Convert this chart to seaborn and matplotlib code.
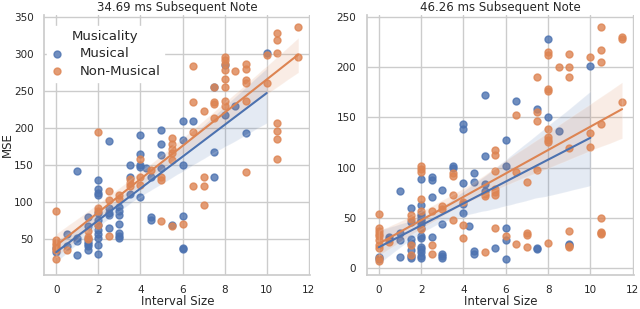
import numpy as np
import pandas as pd
import seaborn as sns
import matplotlib.pyplot as plt

# -------------------------------------------------
# Data (interval size -> MSE)
# -------------------------------------------------
titles = ["34.69 ms Subsequent Note", "46.26 ms Subsequent Note"]
groups = ["Musical", "Non-Musical"]

# left panel, musical
left_mus_x = [0, 0, 0.5, 0.5, 1, 1, 1, 1,
              1.5, 1.5, 1.5, 1.5, 1.5, 1.5, 1.5,
              2, 2, 2, 2, 2, 2, 2, 2, 2, 2, 2, 2,
              2.5, 2.5, 2.5, 2.5, 2.5,
              3, 3, 3, 3, 3, 3, 3,
              3.5, 3.5, 3.5,
              4, 4, 4, 4, 4, 4.25,
              4.5, 4.5, 4.5,
              5, 5, 5, 5, 5.5,
              6, 6, 6, 6, 6, 6, 6.5,
              7.5, 7.5, 7.5, 8, 8, 8.5, 9, 10]
left_mus_y = [32, 38, 57, 40, 142, 51, 47, 28,
              79, 67, 50, 46, 43, 40, 35,
              129, 117, 112, 109, 85, 76, 69, 62, 56, 51, 41, 29,
              182, 91, 85, 82, 64,
              93, 88, 82, 70, 58, 54, 51,
              150, 134, 111,
              190, 165, 150, 147, 107, 146,
              134, 80, 76,
              197, 178, 163, 146, 69,
              210, 183, 150, 81, 37, 36, 210,
              256, 168, 134, 285, 217, 230, 193, 301]

# left panel, non-musical
left_non_x = [0, 0, 0, 0, 0, 0, 0, 0.5,
              1.5, 1.5, 1.5,
              2, 2, 2, 2,
              2.5, 2.5, 2.5, 3, 3,
              3.5, 3.5, 3.5, 4, 4, 4, 4.5,
              5, 5, 5,
              5.5, 5.5, 5.5, 5.5, 5.5, 5.5, 6,
              6.5, 6.5, 6.5, 6.5,
              7, 7, 7, 7,
              7.5, 7.5, 7.5, 7.5,
              8, 8, 8, 8, 8, 8, 8, 8, 8.5,
              9, 9, 9, 9, 9, 9,
              10, 10,
              10.5, 10.5, 10.5, 10.5, 10.5, 10.5, 10.5,
              11.5, 11.5]
left_non_y = [87, 48, 44, 41, 38, 35, 23, 35,
              61, 53, 50,
              195, 91, 88, 69,
              114, 103, 54, 109, 104,
              131, 125, 121, 158, 134, 123, 143,
              134, 129, 74,
              187, 178, 172, 166, 157, 67, 70,
              284, 235, 194, 122,
              223, 134, 122, 96,
              256, 235, 232, 213,
              296, 292, 286, 279, 266, 256, 236, 229, 277,
              286, 280, 265, 261, 236, 141,
              298, 261,
              328, 319, 301, 207, 196, 185, 158,
              337, 296]

# right panel, musical (some points sit on top of each other)
right_mus_x = [0, 0, 0.5, 0.5, 1, 1, 1, 1,
               1.5, 1.5, 1.5, 1.5, 1.5, 1.5, 1.5,
               2, 2, 2, 2, 2, 2, 2, 2, 2, 2, 2, 2, 2, 2, 2,
               2.5, 2.5, 2.5, 2.5,
               3, 3, 3, 3, 3,
               3.5, 3.5,
               4, 4, 4, 4, 4, 4.25,
               4.5, 4.5, 4.5, 4.5,
               5, 5, 5, 5, 5.5,
               6, 6, 6, 6, 6, 6.5,
               7.5, 7.5, 7.5, 8, 8, 8.5, 9, 9, 10]
right_mus_y = [11, 9, 31, 29, 77, 35, 28, 11,
               60, 46, 29, 25, 18, 12.5, 10,
               89, 63, 54.5, 52, 49.5, 47, 44, 40, 32, 30, 21.5, 19, 16, 12, 10,
               91, 88, 71, 31,
               78, 44, 14, 12, 10,
               102, 100,
               144, 139, 85, 64, 55, 42,
               95, 86, 17, 14,
               172, 112, 84, 77, 20,
               128, 102, 40, 28, 9, 166,
               158, 20, 19, 228, 150, 137, 24, 23, 201]

# right panel, non-musical
right_non_x = [0, 0, 0, 0, 0, 0, 0, 0, 0, 0, 0.5,
               1.5, 1.5, 1.5, 1.5,
               2, 2, 2, 2, 2, 2,
               2.5, 2.5, 2.5, 3, 3,
               3.5, 3.5, 3.5, 3.5,
               4, 4, 4, 5, 5, 5,
               5.5, 5.5, 5.5, 5.5, 5.5, 5.5, 5.5, 6,
               6.5, 6.5, 6.5, 7, 7, 7, 7,
               7.5, 7.5, 7.5, 7.5,
               8, 8, 8, 8, 8, 8, 8, 8, 8, 8.5,
               9, 9, 9, 9, 9, 9, 9,
               10, 10, 10,
               10.5, 10.5, 10.5, 10.5, 10.5, 10.5, 10.5, 10.5,
               11.5, 11.5, 11.5]
right_non_y = [54.5, 40, 37, 34, 32, 28, 23, 20, 10, 7, 26,
               53, 49.5, 23, 13,
               102, 99, 96, 69, 57, 39,
               57, 23, 14, 62, 59,
               95, 92, 73, 48,
               66, 43, 30, 74, 72, 16,
               118, 113, 97, 78.5, 76, 73, 40, 32,
               152, 96, 24, 86, 35, 33, 21,
               190, 155, 147, 98,
               215, 212, 178, 176, 139, 131, 128, 126, 25, 200,
               213, 200, 190, 120, 37, 22, 21,
               210, 135, 121,
               240, 217, 205, 143.5, 50, 36, 35, 34,
               230, 228, 165]

panels = [
    {"Musical": (left_mus_x, left_mus_y), "Non-Musical": (left_non_x, left_non_y)},
    {"Musical": (right_mus_x, right_mus_y), "Non-Musical": (right_non_x, right_non_y)},
]
y_limits = [(1, 353), (-6.5, 252)]

# -------------------------------------------------
# Plot
# -------------------------------------------------
sns.set_theme(style="whitegrid")
colors = sns.color_palette("deep", 2)

fig = plt.figure(figsize=(6.4, 3.09), dpi=100)
axes = [fig.add_axes([0.069, 0.110, 0.416, 0.842]),
        fig.add_axes([0.573, 0.110, 0.418, 0.842])]

for ax, title, panel, ylim in zip(axes, titles, panels, y_limits):
    for grp, col in zip(groups, colors):
        xs, ys = panel[grp]
        df = pd.DataFrame({"Interval Size": xs, "MSE": ys})
        sns.regplot(data=df, x="Interval Size", y="MSE", ax=ax, color=col,
                    label=grp, seed=3, truncate=True,
                    scatter_kws={"s": 25}, line_kws={"lw": 1.5})
    ax.set_xlim(-0.575, 12.075)
    ax.set_ylim(*ylim)
    ax.set_title(title, fontsize=8.5, pad=3)
    ax.set_xlabel("Interval Size", fontsize=8.5, labelpad=0)
    ax.set_xticks([0, 2, 4, 6, 8, 10, 12])
    ax.tick_params(labelsize=7.5, pad=1.5)
    sns.despine(ax=ax)
    for s in ["left", "bottom"]:
        ax.spines[s].set_color("0.8")

axes[0].set_ylabel("MSE", fontsize=8.5, labelpad=0)
axes[1].set_ylabel("")

leg = axes[0].legend(title="Musicality", loc="upper left",
                     bbox_to_anchor=(0.009, 0.958), borderaxespad=0,
                     fontsize=9.5, title_fontsize=9.5, frameon=True,
                     framealpha=1, edgecolor="white", handlelength=1.0,
                     handletextpad=1.2, borderpad=0.3, labelspacing=0.35)

fig.savefig("out.png", dpi=100)
